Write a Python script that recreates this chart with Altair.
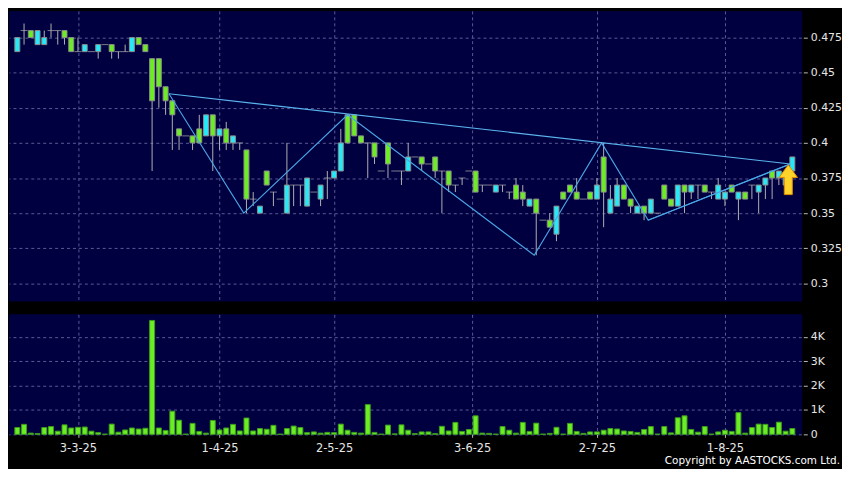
import altair as alt
import pandas as pd

# ---- candle data (index = trading day) ----
opens = [0.465, 0.48, 0.48, 0.47, 0.47, 0.48, 0.48, 0.48, 0.475, 0.465,
         0.465, 0.465, 0.465, 0.47, 0.47, 0.465, 0.465, 0.465, 0.475, 0.47,
         0.46, 0.46, 0.44, 0.43, 0.41, 0.405, 0.405, 0.41, 0.405, 0.42,
         0.405, 0.41, 0.40, 0.40, 0.395, 0.36, 0.35, 0.38, 0.365, 0.36,
         0.35, 0.37, 0.37, 0.355, 0.365, 0.36, 0.375, 0.375, 0.38, 0.42,
         0.42, 0.405, 0.40, 0.40, 0.38, 0.40, 0.38, 0.38, 0.38, 0.39,
         0.39, 0.385, 0.39, 0.38, 0.38, 0.37, 0.375, 0.38, 0.38, 0.37,
         0.37, 0.365, 0.37, 0.365, 0.37, 0.365, 0.355, 0.36, 0.345, 0.345,
         0.335, 0.365, 0.37, 0.365, 0.36, 0.365, 0.36, 0.39, 0.35, 0.355,
         0.37, 0.36, 0.35, 0.355, 0.35, 0.35, 0.37, 0.36, 0.355, 0.37,
         0.365, 0.37, 0.37, 0.365, 0.36, 0.36, 0.37, 0.36, 0.365, 0.37,
         0.365, 0.37, 0.38, 0.375, 0.37, 0.38]
highs = [0.475, 0.485, 0.48, 0.48, 0.48, 0.485, 0.48, 0.48, 0.475, 0.475,
         0.47, 0.465, 0.47, 0.47, 0.47, 0.465, 0.47, 0.475, 0.475, 0.47,
         0.46, 0.46, 0.44, 0.43, 0.41, 0.405, 0.405, 0.42, 0.42, 0.42,
         0.41, 0.415, 0.405, 0.40, 0.395, 0.365, 0.355, 0.38, 0.365, 0.36,
         0.40, 0.37, 0.37, 0.375, 0.365, 0.37, 0.38, 0.38, 0.41, 0.42,
         0.42, 0.405, 0.40, 0.40, 0.38, 0.40, 0.38, 0.38, 0.40, 0.39,
         0.39, 0.385, 0.39, 0.38, 0.38, 0.37, 0.375, 0.38, 0.38, 0.37,
         0.37, 0.37, 0.37, 0.365, 0.375, 0.37, 0.36, 0.36, 0.345, 0.35,
         0.355, 0.365, 0.37, 0.375, 0.36, 0.365, 0.375, 0.40, 0.37, 0.375,
         0.37, 0.36, 0.355, 0.355, 0.36, 0.35, 0.37, 0.36, 0.37, 0.37,
         0.37, 0.37, 0.37, 0.365, 0.375, 0.365, 0.37, 0.365, 0.365, 0.37,
         0.37, 0.375, 0.38, 0.38, 0.38, 0.39]
lows = [0.465, 0.47, 0.475, 0.47, 0.47, 0.475, 0.47, 0.47, 0.465, 0.465,
        0.465, 0.465, 0.46, 0.47, 0.46, 0.46, 0.465, 0.465, 0.47, 0.465,
        0.38, 0.425, 0.42, 0.395, 0.395, 0.405, 0.395, 0.40, 0.405, 0.38,
        0.395, 0.395, 0.395, 0.395, 0.35, 0.355, 0.35, 0.37, 0.355, 0.36,
        0.35, 0.355, 0.355, 0.355, 0.365, 0.355, 0.36, 0.375, 0.38, 0.40,
        0.405, 0.40, 0.375, 0.385, 0.38, 0.375, 0.38, 0.37, 0.38, 0.39,
        0.38, 0.385, 0.375, 0.35, 0.365, 0.365, 0.37, 0.38, 0.365, 0.365,
        0.37, 0.365, 0.365, 0.36, 0.36, 0.355, 0.355, 0.32, 0.345, 0.34,
        0.33, 0.36, 0.365, 0.36, 0.36, 0.36, 0.36, 0.34, 0.35, 0.355,
        0.36, 0.35, 0.35, 0.345, 0.35, 0.35, 0.36, 0.355, 0.355, 0.35,
        0.36, 0.36, 0.365, 0.36, 0.36, 0.355, 0.365, 0.345, 0.36, 0.36,
        0.35, 0.36, 0.36, 0.37, 0.37, 0.38]
closes = [0.475, 0.48, 0.475, 0.48, 0.475, 0.48, 0.48, 0.475, 0.465, 0.465,
          0.47, 0.465, 0.47, 0.47, 0.465, 0.465, 0.465, 0.475, 0.47, 0.465,
          0.43, 0.44, 0.43, 0.42, 0.405, 0.405, 0.40, 0.40, 0.42, 0.405,
          0.41, 0.40, 0.405, 0.40, 0.36, 0.36, 0.355, 0.37, 0.365, 0.36,
          0.37, 0.37, 0.37, 0.375, 0.365, 0.37, 0.375, 0.38, 0.40, 0.40,
          0.405, 0.40, 0.40, 0.39, 0.38, 0.385, 0.38, 0.38, 0.39, 0.39,
          0.385, 0.385, 0.38, 0.38, 0.37, 0.37, 0.375, 0.38, 0.365, 0.37,
          0.37, 0.37, 0.37, 0.365, 0.36, 0.36, 0.36, 0.35, 0.345, 0.34,
          0.355, 0.36, 0.365, 0.36, 0.36, 0.36, 0.37, 0.365, 0.36, 0.37,
          0.36, 0.355, 0.355, 0.35, 0.36, 0.35, 0.36, 0.355, 0.37, 0.365,
          0.37, 0.37, 0.365, 0.365, 0.37, 0.365, 0.365, 0.365, 0.36, 0.37,
          0.37, 0.375, 0.375, 0.38, 0.375, 0.39]
volumes_k = [0.28, 0.41, 0.05, 0.03, 0.28, 0.32, 0.13, 0.39, 0.26, 0.29,
             0.30, 0.13, 0.07, 0.01, 0.42, 0.09, 0.18, 0.26, 0.22, 0.25,
             4.67, 0.26, 0.16, 0.95, 0.58, 0.01, 0.45, 0.12, 0.05, 0.57,
             0.18, 0.26, 0.41, 0.14, 0.67, 0.14, 0.24, 0.21, 0.37, 0.01,
             0.24, 0.34, 0.28, 0.07, 0.10, 0.05, 0.08, 0.07, 0.42, 0.17,
             0.08, 0.05, 1.22, 0.08, 0.01, 0.38, 0.02, 0.39, 0.17, 0.03,
             0.10, 0.10, 0.03, 0.33, 0.14, 0.49, 0.12, 0.20, 0.76, 0.05,
             0.04, 0.01, 0.32, 0.17, 0.05, 0.49, 0.12, 0.46, 0.01, 0.04,
             0.29, 0.01, 0.45, 0.12, 0.04, 0.10, 0.10, 0.17, 0.24, 0.22,
             0.14, 0.12, 0.08, 0.20, 0.32, 0.01, 0.32, 0.06, 0.68, 0.76,
             0.20, 0.09, 0.32, 0.01, 0.10, 0.17, 0.12, 0.89, 0.05, 0.28,
             0.42, 0.41, 0.28, 0.50, 0.13, 0.24]

tick_pos = [9, 30, 47, 67.5, 86, 105]
tick_labels = ["3-3-25", "1-4-25", "2-5-25", "3-6-25", "2-7-25", "1-8-25"]
price_ticks = [0.3, 0.325, 0.35, 0.375, 0.4, 0.425, 0.45, 0.475]
vol_ticks = [0, 1, 2, 3, 4]

# zig-zag and trend lines
zz_x = [22.5, 33.6, 49.0, 76.7, 86.7, 93.6, 114.7]
zz_y = [0.435, 0.35, 0.42, 0.32, 0.40, 0.345, 0.385]
upper_x = [22.5, 114.7]
upper_y = [0.435, 0.385]
lower_x = [93.6, 114.7]
lower_y = [0.345, 0.385]
arrow_x = [114.4]
arrow_y = [0.3738]

N = len(opens)
df = pd.DataFrame({"idx": list(range(N)), "open": opens, "high": highs,
                   "low": lows, "close": closes, "vol": volumes_k})
df["dir"] = ["up" if c > o else ("down" if c < o else "flat") for o, c in zip(opens, closes)]

GREEN = "#6cec24"
CYAN = "#26e8f6"
LINE = "#4aa6e6"
W = 799
H1 = 292
H2 = 121

xdom = [-0.5, 115.6]
lab_expr = "[" + ",".join("'%s'" % t for t in tick_labels) + "][indexof([" + \
    ",".join(str(p) for p in tick_pos) + "], datum.value)]"

x_top = alt.X("idx:Q", scale=alt.Scale(domain=xdom, nice=False, zero=False),
              axis=alt.Axis(values=tick_pos, labels=False, ticks=False, domain=False,
                            grid=True, title=""))
y_price = alt.Y("low:Q", scale=alt.Scale(domain=[0.2878, 0.494], nice=False, zero=False),
                axis=alt.Axis(orient="right", values=price_ticks,
                              labelExpr="format(datum.value, '~g')", grid=True,
                              title="", offset=2, tickSize=4, labelPadding=3))

base = alt.Chart(df)
wicks = base.mark_rule(color="#b0b0b0", strokeWidth=1).encode(
    x=x_top, y=y_price, y2="high:Q"
).transform_filter("datum.high > datum.low")

bodies = base.mark_bar(size=5, stroke="#8c8c8c", strokeWidth=1).encode(
    x=x_top,
    y=alt.Y("open:Q", scale=alt.Scale(domain=[0.2878, 0.494], nice=False, zero=False)),
    y2="close:Q",
    color=alt.Color("dir:N", scale=alt.Scale(domain=["up", "down"], range=[CYAN, GREEN]), legend=None),
).transform_filter("datum.open != datum.close")

doji = base.mark_tick(orient="horizontal", size=7, thickness=1, color="#b0b0b0").encode(
    x=x_top, y=alt.Y("open:Q")
).transform_filter("datum.open == datum.close")

zz = alt.Chart(pd.DataFrame({"x": zz_x, "y": zz_y, "o": list(range(len(zz_x)))})).mark_line(
    color=LINE, strokeWidth=1.1).encode(x="x:Q", y="y:Q", order="o:Q")
up_line = alt.Chart(pd.DataFrame({"x": upper_x, "y": upper_y})).mark_line(
    color="#5ab4ee", strokeWidth=1.1).encode(x="x:Q", y="y:Q")
lo_line = alt.Chart(pd.DataFrame({"x": lower_x, "y": lower_y})).mark_line(
    color=LINE, strokeWidth=1.1).encode(x="x:Q", y="y:Q")
arrow = alt.Chart(pd.DataFrame({"x": arrow_x, "y": arrow_y})).mark_point(
    shape="M0,-1L0.62,-0.15L0.27,-0.15L0.27,1L-0.27,1L-0.27,-0.15L-0.62,-0.15Z",
    size=900, filled=True, fill="#ffd42a", stroke="#e08a00", strokeWidth=1, opacity=1
).encode(x="x:Q", y="y:Q")

price = alt.layer(wicks, bodies, doji, zz, up_line, lo_line, arrow).properties(width=W, height=H1)

x_bot = alt.X("idx:Q", scale=alt.Scale(domain=xdom, nice=False, zero=False),
              axis=alt.Axis(values=tick_pos, labelExpr=lab_expr, grid=True, title="",
                            tickSize=3, labelPadding=5, domain=False, labelFontSize=11.5))
vbars = alt.Chart(df).mark_bar(size=5, color=GREEN, stroke="#3c9c1c", strokeWidth=1).encode(
    x=x_bot,
    y=alt.Y("vol:Q", scale=alt.Scale(domain=[0, 4.92], nice=False),
            axis=alt.Axis(orient="right", values=vol_ticks,
                          labelExpr="datum.value == 0 ? '0' : datum.value + 'K'",
                          grid=True, title="", offset=2, tickSize=4, labelPadding=3)),
)
copyright = alt.Chart(pd.DataFrame({"t": ["Copyright by AASTOCKS.com Ltd."]})).mark_text(
    align="right", baseline="middle", fontSize=10.5, color="#ffffff", font="DejaVu Sans"
).encode(x=alt.value(838), y=alt.value(H2 + 27), text="t:N")

volume = alt.layer(vbars, copyright).properties(width=W, height=H2)

chart = alt.vconcat(price, volume, spacing=12).properties(
    padding=0, background="#000000"
).configure_view(fill="#000040", stroke="#000040").configure_axis(
    labelColor="#e6e6e6", labelFont="DejaVu Sans", labelFontSize=11,
    tickColor="#bbbbbb", gridColor="#5a5a96", gridDash=[3, 3], gridWidth=1,
    domain=False
)

chart.save("out.html", embed_options={"renderer": "svg", "actions": False})
